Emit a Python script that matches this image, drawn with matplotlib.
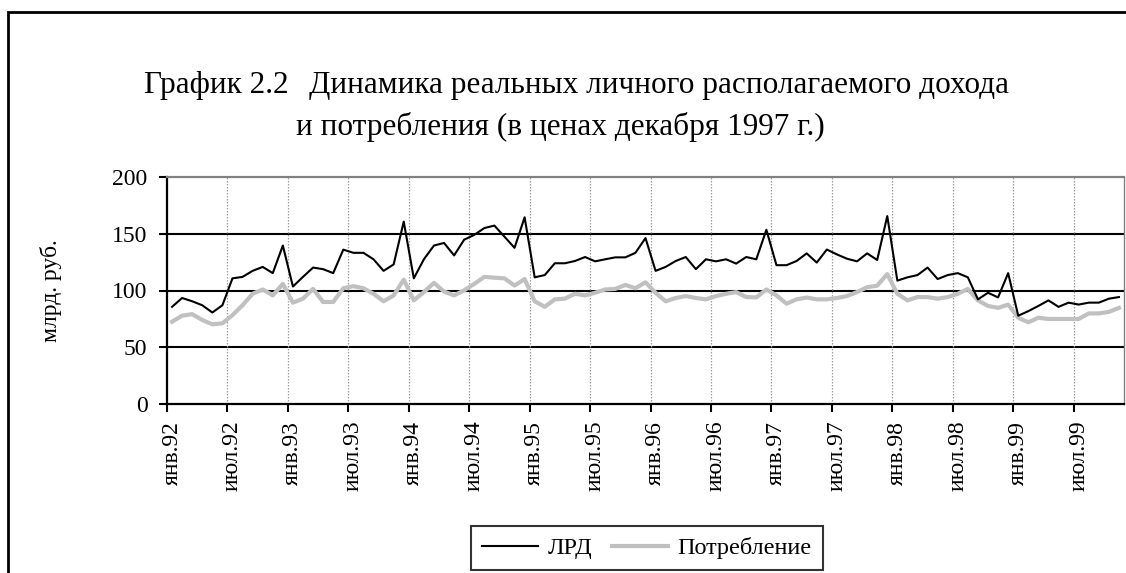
import matplotlib
matplotlib.use("Agg")
import matplotlib.pyplot as plt
import numpy as np
from matplotlib.patches import Rectangle

plt.rcParams['font.family'] = ['Liberation Serif', 'DejaVu Serif']

# monthly values, jan 1992 .. nov 1999 (bln rub, Dec 1997 prices)
lrd = [85.6, 93.4, 90.5, 87, 80.6, 87, 110.7, 112, 117.3, 120.8, 115.3, 139.6,
       103.5, 112, 120.2, 118.8, 115.3, 136, 133.2, 133.2, 127.5, 117.3, 123, 160.7,
       110.7, 127.5, 139.6, 141.9, 130.9, 144.8, 149, 155, 157.2, 147.4, 137.6, 164.5,
       111.6, 113.6, 124, 124, 126, 129.5, 125.7, 127.5, 129.2, 129.2, 133.2, 146.2,
       117.3, 120.8, 126, 129.5, 118.8, 127.5, 125.7, 127.5, 123.7, 129.5, 127.5, 153.5,
       122.3, 122.3, 126, 132.7, 124.6, 136.1, 131.8, 128, 125.7, 132.7, 126.9, 165.6,
       108.7, 111.6, 113.6, 120.2, 110.1, 113.6, 115.3, 111.6, 92.2, 98, 93.9, 115.3,
       77.8, 81.8, 86.4, 91.3, 85.6, 89.3, 87.6, 89.3, 89.3, 92.8, 94.2]

cons = [72.5, 77.8, 79.2, 74, 70.2, 71.1, 78.3, 87, 97.1, 100.9, 95.7, 105.8,
        89.3, 92.8, 101.4, 89.9, 89.9, 102, 103.8, 102, 97.1, 90.5, 95.7, 109.5,
        91.3, 98.6, 106.7, 99.1, 95.7, 100.1, 105.8, 112, 111.3, 110.7, 104.3, 110.1,
        90.5, 85.6, 92.2, 92.8, 97.1, 95.7, 98, 100.9, 101.4, 104.9, 102, 107.2,
        98, 90.5, 93.4, 95.1, 93.4, 92.2, 95.1, 97.1, 98.6, 94.2, 93.9, 100.9,
        95.7, 88.4, 92.2, 93.8, 92.2, 92.2, 93.4, 95.1, 98.6, 102.9, 104.3, 114.5,
        97.1, 91.3, 94.2, 94.2, 92.8, 94.2, 97.1, 101.4, 91.3, 86.4, 84.7, 87.6,
        76, 72, 76, 74.9, 74.9, 74.9, 74.9, 79.8, 79.8, 81.2, 84.7]

tick_labels = ['янв.92', 'июл.92', 'янв.93', 'июл.93', 'янв.94', 'июл.94',
               'янв.95', 'июл.95', 'янв.96', 'июл.96', 'янв.97', 'июл.97',
               'янв.98', 'июл.98', 'янв.99', 'июл.99']
yticks = [0, 50, 100, 150, 200]

n = len(lrd)
x = np.arange(n) + 0.5  # points in the middle of each month category

W, H = 1126, 573
fig = plt.figure(figsize=(W / 100, H / 100), dpi=100)
ax = fig.add_axes([167 / W, 1 - 404 / H, (1124 - 167) / W, (404 - 177) / H])

# outer chart frame (cut off at right/bottom like the scan)
fig.patches.append(Rectangle((8 / W, -0.1), 1.2, 1 - 12 / H + 0.1, transform=fig.transFigure,
                             fill=False, edgecolor='black', linewidth=2))

ax.set_xlim(0, n)
ax.set_ylim(0, 200)

# grid
for v in yticks[1:-1]:
    ax.axhline(v, color='black', linewidth=1.5, zorder=1)
bounds = np.arange(0, n, 6)
for b in bounds[1:]:
    ax.axvline(b, color='#a0a0a0', linewidth=0.9, linestyle=(0, (1.2, 1.2)), zorder=1)

ax.plot(x, cons, color='#c0c0c0', linewidth=3.0, label='Потребление', zorder=2,
        solid_joinstyle='round')
ax.plot(x, lrd, color='black', linewidth=1.5, label='ЛРД', zorder=3)

ax.spines['top'].set_color('#808080')
ax.spines['right'].set_color('#808080')
for s in ['left', 'bottom']:
    ax.spines[s].set_linewidth(1.6)
ax.spines['top'].set_linewidth(1.6)
ax.spines['right'].set_linewidth(1.0)

ax.set_yticks(yticks)
ax.tick_params(axis='y', direction='out', length=6, width=1.5, labelsize=17, pad=8)
ax.set_xticks(bounds)
ax.set_xticklabels([])
ax.tick_params(axis='x', which='major', direction='out', length=6, width=1.5)
ax.set_xticks(bounds + 0.5, minor=True)
ax.set_xticklabels(tick_labels, minor=True, rotation=90, fontsize=17)
ax.tick_params(axis='x', which='minor', length=0, pad=12)

ax.set_ylabel('млрд. руб.', fontsize=17, labelpad=36)

# title
fig.text(144 / W, 1 - 85 / H, 'График 2.2', fontsize=22.5, va='center', ha='left')
fig.text(309 / W, 1 - 85 / H, 'Динамика реальных личного располагаемого дохода',
         fontsize=22.5, va='center', ha='left')
fig.text(296 / W, 1 - 127 / H, 'и потребления (в ценах декабря 1997 г.)',
         fontsize=22.5, va='center', ha='left')

h, l = ax.get_legend_handles_labels()
leg = fig.legend(h[::-1], l[::-1], loc='center', bbox_to_anchor=(647 / W, 1 - 548 / H),
                 ncol=2, fontsize=17.5, frameon=True, fancybox=False, edgecolor='black',
                 handlelength=2.3, columnspacing=0.8, handletextpad=0.4, borderpad=0.45)
leg.get_frame().set_linewidth(1.5)

fig.savefig('out.png', dpi=100)
